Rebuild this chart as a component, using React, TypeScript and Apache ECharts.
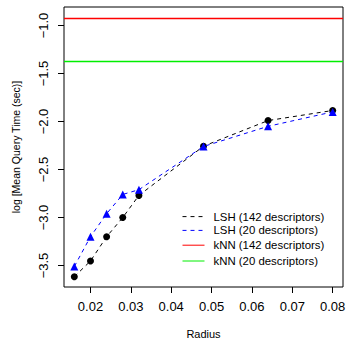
import React, { useEffect, useRef } from "react";
import * as echarts from "echarts";

const radius = [0.016, 0.02, 0.024, 0.028, 0.032, 0.048, 0.064, 0.08];
const lsh142 = [-3.617, -3.453, -3.2, -3.0, -2.77, -2.257, -1.99, -1.885];
const lsh20 = [-3.51, -3.2, -2.96, -2.76, -2.71, -2.26, -2.05, -1.9];
const knn142 = -0.92;
const knn20 = -1.367;
const xTicks = [0.02, 0.03, 0.04, 0.05, 0.06, 0.07, 0.08];
const yTicks = [-3.5, -3.0, -2.5, -2.0, -1.5, -1.0];
const seriesNames = [
  "LSH (142 descriptors)",
  "LSH (20 descriptors)",
  "kNN (142 descriptors)",
  "kNN (20 descriptors)",
];

const FONT = "'Liberation Sans', Arial, Helvetica, sans-serif";

export default function App() {
  const ref = useRef<HTMLDivElement>(null);
  useEffect(() => {
    if (!ref.current) return;
    const chart = echarts.init(ref.current, undefined, { renderer: "svg" });
    const pairs = (ys: number[]) => radius.map((x, i) => [x, ys[i]]);
    chart.setOption({
      animation: false,
      textStyle: { fontFamily: FONT },
      grid: {
        left: 64,
        right: 4,
        top: 7,
        bottom: 54,
        containLabel: false,
        outerBoundsMode: "none",
        show: true,
        borderColor: "#000",
        borderWidth: 1,
        backgroundColor: "transparent",
      },
      xAxis: {
        type: "value",
        min: 0.01344,
        max: 0.08256,
        name: "Radius",
        nameLocation: "middle",
        nameGap: 41,
        nameTextStyle: { fontSize: 11, color: "#000", fontFamily: FONT },
        axisLine: { show: false },
        splitLine: { show: false },
        axisTick: {
          show: true,
          inside: false,
          length: 6,
          customValues: xTicks,
          lineStyle: { color: "#000", width: 1 },
        },
        axisLabel: {
          show: true,
          customValues: xTicks,
          margin: 13,
          fontSize: 13,
          color: "#000",
          fontFamily: FONT,
          formatter: (v: number) => v.toFixed(2),
        },
      },
      yAxis: {
        type: "value",
        min: -3.724,
        max: -0.807,
        name: "log [Mean Query Time (sec)]",
        nameLocation: "middle",
        nameGap: 43,
        nameTextStyle: { fontSize: 10.5, color: "#000", fontFamily: FONT },
        axisLine: { show: false },
        splitLine: { show: false },
        axisTick: {
          show: true,
          inside: false,
          length: 6,
          customValues: yTicks,
          lineStyle: { color: "#000", width: 1 },
        },
        axisLabel: {
          show: true,
          customValues: yTicks,
          rotate: 90,
          margin: 14,
          fontSize: 13,
          color: "#000",
          fontFamily: FONT,
          formatter: (v: number) => v.toFixed(1).replace("-", "\u2212"),
        },
      },
      legend: {
        orient: "vertical",
        left: 182,
        top: 211,
        padding: 0,
        itemWidth: 22,
        itemHeight: 14,
        itemGap: 2.6,
        data: seriesNames,
        itemStyle: { opacity: 0 },
        lineStyle: { width: 1 },
        textStyle: {
          fontSize: 11.4,
          color: "#000",
          fontFamily: FONT,
          padding: [0, 0, 0, 4],
        },
        selectedMode: false,
      },
      series: [
        {
          name: seriesNames[0],
          type: "line",
          data: pairs(lsh142),
          color: "#000000",
          symbol: "circle",
          symbolSize: 7,
          lineStyle: { color: "#000000", width: 1, type: [4, 4] },
          itemStyle: { color: "#000000" },
          z: 3,
        },
        {
          name: seriesNames[1],
          type: "line",
          data: pairs(lsh20),
          color: "#0000ff",
          symbol: "triangle",
          symbolSize: 8,
          lineStyle: { color: "#0000ff", width: 1, type: [4, 4] },
          itemStyle: { color: "#0000ff" },
          z: 4,
        },
        {
          name: seriesNames[2],
          type: "line",
          data: [],
          color: "#ff0000",
          lineStyle: { color: "#ff0000", width: 1.3 },
          markLine: {
            silent: true,
            symbol: "none",
            label: { show: false },
            lineStyle: { color: "#ff0000", width: 1.3, type: "solid" },
            data: [{ yAxis: knn142 }],
          },
        },
        {
          name: seriesNames[3],
          type: "line",
          data: [],
          color: "#00ee00",
          lineStyle: { color: "#00ee00", width: 1.3 },
          markLine: {
            silent: true,
            symbol: "none",
            label: { show: false },
            lineStyle: { color: "#00ee00", width: 1.3, type: "solid" },
            data: [{ yAxis: knn20 }],
          },
        },
      ],
    });
    return () => chart.dispose();
  }, []);
  return <div ref={ref} style={{ width: 347, height: 341, position: "absolute", left: 0, top: 0 }} />;
}
